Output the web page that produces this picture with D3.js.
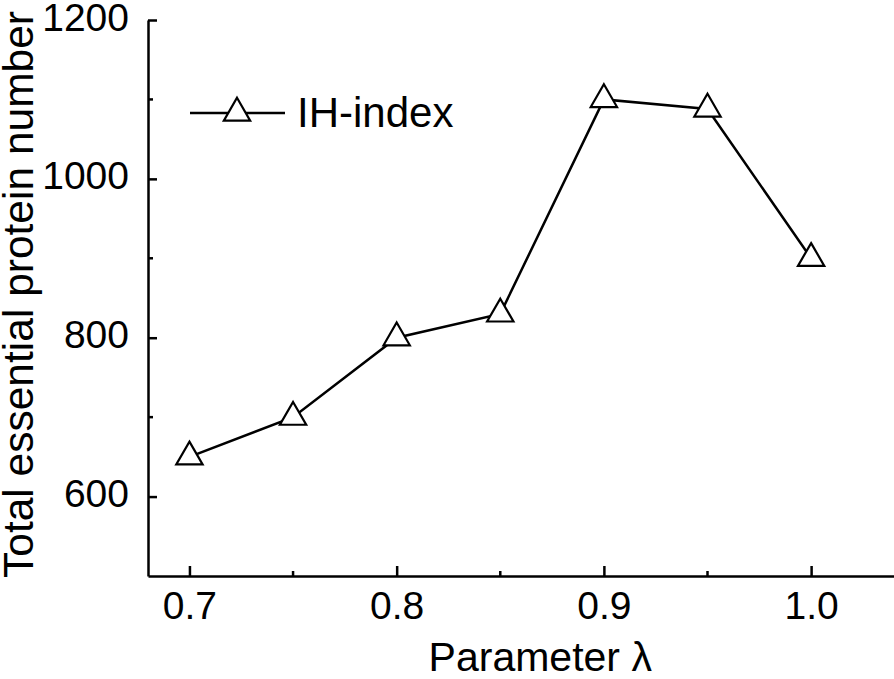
<!DOCTYPE html>
<html>
<head>
<meta charset="utf-8">
<script src="https://cdn.jsdelivr.net/npm/d3@7"></script>
<style>
  html, body { margin: 0; padding: 0; background: #fff; }
  svg { display: block; font-family: "Liberation Sans", Arial, sans-serif; }
</style>
</head>
<body>
<svg id="chart" width="894" height="679"></svg>
<script>
var lambdas = [0.7, 0.75, 0.8, 0.85, 0.9, 0.95, 1.0];
var ihIndex = [650, 700, 800, 830, 1100, 1088, 900];
var xMajor = [0.7, 0.8, 0.9, 1.0];
var xMinor = [0.75, 0.85, 0.95];
var yMajor = [600, 800, 1000, 1200];
var yMinor = [700, 900, 1100];

var svg = d3.select('#chart');
var x = d3.scaleLinear().domain([0.68, 1.04]).range([148, 894]);
var y = d3.scaleLinear().domain([500, 1200]).range([576, 20]);

// y axis, ticks pointing inward
var yAxis = d3.axisLeft(y).tickValues(yMajor).tickSize(-9).tickPadding(19).tickSizeOuter(0)
  .tickFormat(d3.format('d'));
var gy = svg.append('g').attr('transform', 'translate(' + x.range()[0] + ',0)').call(yAxis);
gy.append('g').selectAll('line').data(yMinor).join('line')
  .attr('x1', 0).attr('x2', 5).attr('y1', y).attr('y2', y);

var xAxis = d3.axisBottom(x).tickValues(xMajor).tickSize(-10).tickPadding(15).tickSizeOuter(0)
  .tickFormat(d3.format('.1f'));
var gx = svg.append('g').attr('transform', 'translate(0,' + y.range()[0] + ')').call(xAxis);
gx.append('g').selectAll('line').data(xMinor).join('line')
  .attr('x1', x).attr('x2', x).attr('y1', 0).attr('y2', -5);

svg.selectAll('.domain, .tick line, g > g > line')
  .attr('stroke', '#000').attr('stroke-width', 2.5);
svg.selectAll('.tick text').attr('fill', '#000').attr('font-size', 39)
  .attr('font-family', '"Liberation Sans", Arial, sans-serif');
gy.selectAll('.tick text').attr('dy', '0.26em');

// axis titles
svg.append('text')
  .attr('transform', 'translate(33,578) rotate(-90)')
  .attr('font-size', 42.5).text('Total essential protein number');
svg.append('text')
  .attr('x', (x(0.7) + x(1.0)) / 2 + 40).attr('y', 671).attr('text-anchor', 'middle')
  .attr('font-size', 41).text('Parameter \u03bb');

// data line and markers
var line = d3.line().x(function(d, i) { return x(lambdas[i]); }).y(function(d) { return y(d); });
svg.append('path').datum(ihIndex).attr('d', line)
  .attr('fill', 'none').attr('stroke', '#000').attr('stroke-width', 2.5);

var tri = d3.symbol().type(d3.symbolTriangle).size(300);
svg.append('g').selectAll('path').data(ihIndex).join('path')
  .attr('transform', function(d, i) { return 'translate(' + x(lambdas[i]) + ',' + y(d) + ')'; })
  .attr('d', tri).attr('fill', '#fff').attr('stroke', '#000').attr('stroke-width', 2.2);

// legend
var lg = svg.append('g').attr('transform', 'translate(190,113)');
lg.append('line').attr('x1', 0).attr('x2', 95).attr('stroke', '#000').attr('stroke-width', 2.5);
lg.append('path').attr('transform', 'translate(47,0)').attr('d', tri)
  .attr('fill', '#fff').attr('stroke', '#000').attr('stroke-width', 2.2);
lg.append('text').attr('x', 107).attr('y', 14).attr('font-size', 42).text('IH-index');
</script>
</body>
</html>
